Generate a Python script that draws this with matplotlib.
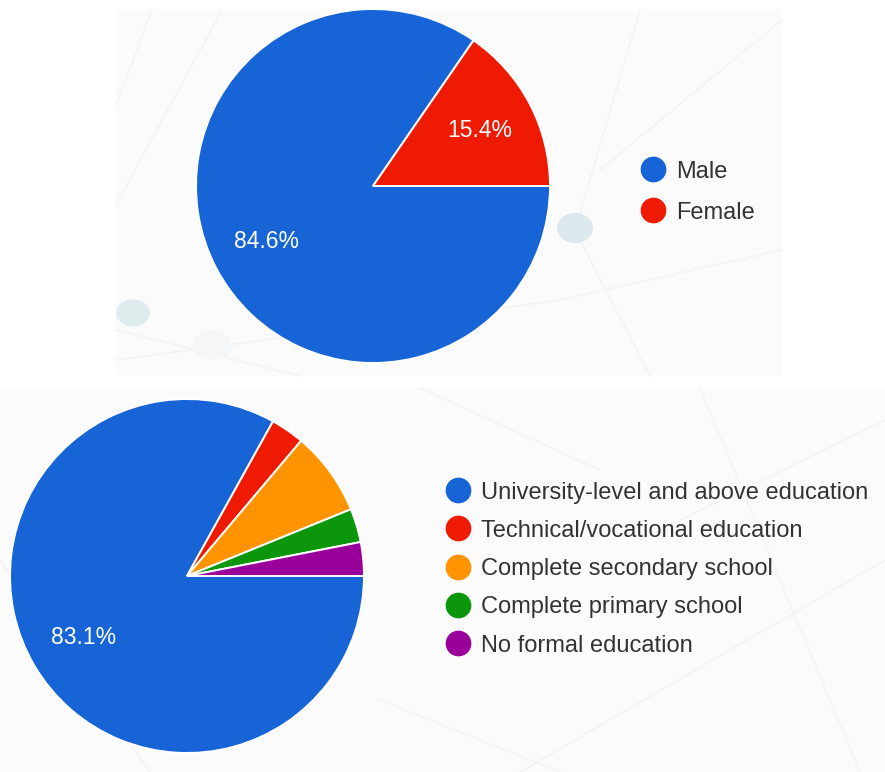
import matplotlib
matplotlib.use("Agg")
import matplotlib.pyplot as plt
from matplotlib.lines import Line2D
from matplotlib.patches import Rectangle, Ellipse

plt.rcParams["font.family"] = ["Liberation Sans", "DejaVu Sans"]

# Survey responses (counts)
gender_labels = ["Male", "Female"]
gender_counts = [55, 10]
gender_colors = ["#1764d6", "#ef1a02"]

edu_labels = [
    "University-level and above education",
    "Technical/vocational education",
    "Complete secondary school",
    "Complete primary school",
    "No formal education",
]
edu_counts = [54, 2, 5, 2, 2]
edu_colors = ["#1764d6", "#ef1a02", "#ff9300", "#0b960b", "#9a009a"]

W, H = 885, 772
fig = plt.figure(figsize=(W / 100, H / 100), dpi=100)
fig.patch.set_facecolor("white")


def fx(px):
    return px / W


def fy(py):
    return 1 - py / H


# Soft panel backgrounds with faint decorative lines
fig.add_artist(Rectangle((fx(116), fy(376)), fx(782) - fx(116), fy(10) - fy(376),
                         transform=fig.transFigure, facecolor="#fbfbfc",
                         edgecolor="none", zorder=0))
fig.add_artist(Rectangle((0, 0), 1, fy(388), transform=fig.transFigure,
                         facecolor="#fbfbfc", edgecolor="none", zorder=0))
deco_lines = [
    ((116, 205), (222, 10)), ((116, 105), (152, 10)), ((640, 10), (575, 230)),
    ((782, 20), (600, 170)), ((575, 230), (650, 376)), ((116, 330), (300, 376)),
    ((782, 250), (560, 300)), ((560, 300), (116, 360)),
    ((0, 560), (150, 772)), ((420, 388), (600, 470)), ((700, 388), (860, 772)),
    ((520, 772), (885, 560)), ((885, 420), (640, 540)), ((380, 700), (560, 772)),
]
for (x0, y0), (x1, y1) in deco_lines:
    fig.add_artist(Line2D([fx(x0), fx(x1)], [fy(y0), fy(y1)],
                          transform=fig.transFigure, color="#f1f3f5",
                          lw=1.0, zorder=0.5))
for (cx, cy, w, h, c) in [(575, 228, 36, 30, "#dde9ec"),
                          (133, 313, 34, 27, "#dfeced"),
                          (212, 345, 40, 30, "#f4f6f8")]:
    fig.add_artist(Ellipse((fx(cx), fy(cy)), w / W, h / H,
                           transform=fig.transFigure, facecolor=c,
                           edgecolor="none", zorder=0.6))


def pie_axes(cx, cy, r):
    ax = fig.add_axes([fx(cx - r), fy(cy + r), 2 * r / W, 2 * r / H], zorder=2)
    ax.set_xlim(-1, 1)
    ax.set_ylim(-1, 1)
    ax.set_aspect("equal")
    ax.axis("off")
    ax.patch.set_alpha(0)
    return ax


def pct_fmt(p):
    return f"{p:.1f}%" if p >= 10 else ""


def draw_pie(ax, counts, colors):
    ax.pie(counts, colors=colors, startangle=0, counterclock=False, radius=1,
           autopct=pct_fmt, pctdistance=0.68,
           wedgeprops=dict(edgecolor="white", linewidth=1.4),
           textprops=dict(color="white", fontsize=16.5))
    ax.set_xlim(-1, 1)
    ax.set_ylim(-1, 1)


def draw_legend(labels, colors, x_marker, x_text, y_first, step):
    for i, (lab, col) in enumerate(zip(labels, colors)):
        y = y_first + i * step
        fig.add_artist(Line2D([fx(x_marker)], [fy(y)], transform=fig.transFigure,
                              marker="o", markersize=17.5, color=col, lw=0,
                              zorder=3))
        fig.text(fx(x_text), fy(y), lab, fontsize=17, color="#333333",
                 va="center_baseline", ha="left", zorder=3)


ax1 = pie_axes(373, 186, 177)
draw_pie(ax1, gender_counts, gender_colors)
draw_legend(gender_labels, gender_colors, 653, 676, 169, 41)

ax2 = pie_axes(187, 576, 177)
draw_pie(ax2, edu_counts, edu_colors)
draw_legend(edu_labels, edu_colors, 458, 481, 490, 38.3)

fig.savefig("out.png", dpi=100, facecolor=fig.get_facecolor())
